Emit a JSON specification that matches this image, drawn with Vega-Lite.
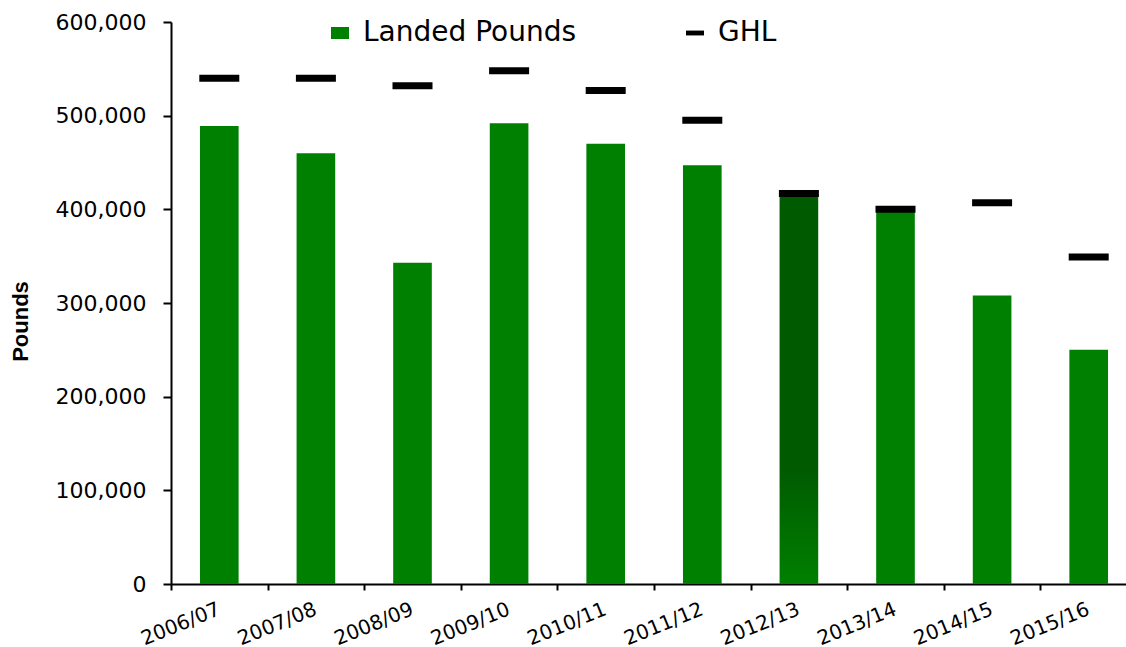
{
  "$schema": "https://vega.github.io/schema/vega-lite/v6.json",
  "width": 955,
  "height": 562,
  "autosize": {"type": "none"},
  "padding": {"left": 171, "top": 22, "right": 0, "bottom": 63},
  "background": "white",
  "config": {"view": {"stroke": null}, "font": "DejaVu Sans"},
  "data": {
    "values": [
      {"season": "2006/07", "landed": 489000, "ghl": 540000},
      {"season": "2007/08", "landed": 460000, "ghl": 540000},
      {"season": "2008/09", "landed": 343000, "ghl": 532000},
      {"season": "2009/10", "landed": 492000, "ghl": 548000},
      {"season": "2010/11", "landed": 470000, "ghl": 527000},
      {"season": "2011/12", "landed": 447000, "ghl": 495000},
      {"season": "2012/13", "landed": 416000, "ghl": 417000},
      {"season": "2013/14", "landed": 398000, "ghl": 400000},
      {"season": "2014/15", "landed": 308000, "ghl": 407000},
      {"season": "2015/16", "landed": 250000, "ghl": 349000}
    ]
  },
  "encoding": {
    "x": {
      "field": "season",
      "type": "nominal",
      "sort": null,
      "scale": {"range": [0, 966], "paddingInner": 0.6, "paddingOuter": 0.3},
      "axis": {
        "title": null,
        "labelAngle": -22,
        "labelAlign": "right",
        "labelBaseline": "top",
        "labelFont": "DejaVu Sans",
        "labelFontSize": 20,
        "labelColor": "#000",
        "labelPadding": 9,
        "labelLimit": 300,
        "tickSize": 6,
        "tickWidth": 2,
        "tickColor": "#000",
        "domainColor": "#000",
        "domainWidth": 2,
        "tickOffset": -48.3,
        "labelOffset": 44
      }
    }
  },
  "layer": [
    {
      "mark": {"type": "bar"},
      "encoding": {
        "y": {
          "field": "landed",
          "type": "quantitative",
          "scale": {"domain": [0, 600000], "nice": false},
          "axis": {
            "values": [0, 100000, 200000, 300000, 400000, 500000, 600000],
            "format": ",.0f",
            "grid": false,
            "labelFont": "DejaVu Sans",
            "labelFontSize": 22,
            "labelColor": "#000",
            "labelPadding": 17,
            "labelLimit": 300,
            "tickSize": 8,
            "tickWidth": 2,
            "tickColor": "#000",
            "domainColor": "#000",
            "domainWidth": 2,
            "title": "Pounds",
            "titleFont": "Liberation Sans",
            "titleFontSize": 22,
            "titleFontWeight": "bold",
            "titleColor": "#000",
            "titleAngle": -90,
            "titleAlign": "center",
            "titleBaseline": "middle",
            "titleX": -151,
            "titleY": 299
          }
        },
        "color": {
          "datum": "Landed Pounds",
          "type": "nominal",
          "condition": {
            "test": "datum.season === '2012/13'",
            "value": {
              "gradient": "linear",
              "x1": 0, "y1": 0, "x2": 0, "y2": 1,
              "stops": [
                {"offset": 0, "color": "#005a00"},
                {"offset": 0.7, "color": "#005a00"},
                {"offset": 1, "color": "#008000"}
              ]
            }
          },
          "scale": {"domain": ["Landed Pounds", "GHL"], "range": ["#008000", "#000000"]},
          "legend": {
            "orient": "none",
            "legendX": 155,
            "legendY": -3,
            "direction": "horizontal",
            "title": null,
            "padding": 0,
            "labelFont": "DejaVu Sans",
            "labelFontSize": 28,
            "labelColor": "#000",
            "labelLimit": 400,
            "labelOffset": 9,
            "columnPadding": 104,
            "symbolSize": 324,
            "symbolStrokeWidth": 0,
            "symbolOpacity": 1,
            "encode": {
              "symbols": {
                "update": {
                  "shape": {"signal": "datum.value === 'GHL' ? 'M-1,-0.27H1V0.27H-1Z' : 'M-1,-0.67H1V0.67H-1Z'"}
                }
              }
            }
          }
        }
      }
    },
    {
      "mark": {"type": "tick", "size": 40, "thickness": 7, "opacity": 1},
      "encoding": {
        "y": {"field": "ghl", "type": "quantitative"},
        "color": {"datum": "GHL", "type": "nominal"}
      }
    }
  ]
}
